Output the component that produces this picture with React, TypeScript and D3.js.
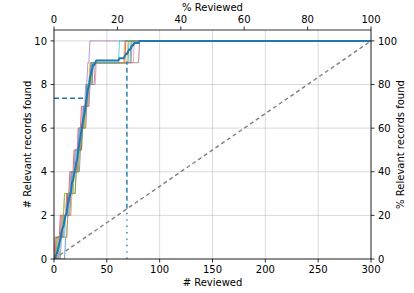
import React from 'react';
import * as d3 from 'd3';

// position (# reviewed) at which each of the 10 relevant records was found, one row per run
const runFoundAt: number[][] = [
  [10, 12, 15, 18, 21, 24, 27, 31, 36, 70],
  [4, 12, 16, 20, 22, 25, 28, 31, 33, 66],
  [2, 7, 9, 20, 23, 26, 29, 32, 35, 72],
  [1, 5, 11, 14, 18, 22, 25, 30, 34, 67],
  [3, 6, 12, 15, 19, 23, 27, 29, 31, 33],
  [0, 8, 12, 16, 24, 26, 30, 33, 38, 80],
  [4, 6, 13, 16, 19, 22, 26, 33, 39, 75],
  [6, 9, 14, 17, 22, 25, 28, 30, 36, 73],
  [3, 7, 9, 18, 21, 24, 29, 31, 35, 69],
  [5, 10, 13, 16, 20, 23, 27, 30, 34, 61],
];
const runColors = ['#1f77b4', '#ff7f0e', '#2ca02c', '#d62728', '#9467bd', '#8c564b', '#e377c2', '#7f7f7f', '#bcbd22', '#17becf'];

const nTotal = 300;
const nRelevant = 10;
const bottomTicks = [0, 50, 100, 150, 200, 250, 300];
const topTicks = [0, 20, 40, 60, 80, 100];
const leftTicks = [0, 2, 4, 6, 8, 10];
const rightTicks = [0, 20, 40, 60, 80, 100];

// RRF@10 and WSS markers
const rrfX = 30;
const rrfY = 7.37;
const wssX = 69;
const wssY = 9.05;

const W = 414;
const H = 293;
const m = { left: 54, right: 371, top: 30, bottom: 259 };
const font = 'DejaVu Sans, sans-serif';

export default function App() {
  const x = d3.scaleLinear().domain([0, nTotal]).range([m.left, m.right]);
  const xPct = d3.scaleLinear().domain([0, 100]).range([m.left, m.right]);
  const y = d3.scaleLinear().domain([0, 10.5]).range([m.bottom, m.top]);
  const yPct = d3.scaleLinear().domain([0, 105]).range([m.bottom, m.top]);

  const steps = d3.range(0, nTotal + 1);
  const curves = runFoundAt.map(found =>
    steps.map(i => [i, found.filter(f => f < i).length] as [number, number])
  );
  const mean = steps.map(i => [i, d3.mean(curves, c => c[i][1]) as number] as [number, number]);

  const line = d3.line<[number, number]>().x(d => x(d[0])).y(d => y(d[1]));

  return (
    <svg width={W} height={H} style={{ position: 'absolute', left: 0, top: 0 }} fontFamily={font}>
      <rect width={W} height={H} fill="#fff" />
      {/* grid */}
      {bottomTicks.map(t => (
        <line key={'gx' + t} x1={x(t)} x2={x(t)} y1={m.top} y2={m.bottom} stroke="#b0b0b0" strokeOpacity={0.6} strokeWidth={0.8} />
      ))}
      {leftTicks.map(t => (
        <line key={'gy' + t} x1={m.left} x2={m.right} y1={y(t)} y2={y(t)} stroke="#b0b0b0" strokeOpacity={0.6} strokeWidth={0.8} />
      ))}
      <defs>
        <clipPath id="plot">
          <rect x={m.left} y={m.top} width={m.right - m.left} height={m.bottom - m.top} />
        </clipPath>
      </defs>
      <g clipPath="url(#plot)">
        {curves.map((c, i) => (
          <path key={i} d={line(c) || ''} fill="none" stroke={runColors[i]} strokeWidth={0.9} strokeOpacity={0.75} />
        ))}
        <path d={line([[0, 0], [nTotal, nRelevant]]) || ''} stroke="#808080" strokeWidth={1.4} strokeDasharray="4,3" fill="none" />
        <path d={line(mean) || ''} fill="none" stroke="#1f77b4" strokeWidth={2} />
        <line x1={x(0)} x2={x(rrfX)} y1={y(rrfY)} y2={y(rrfY)} stroke="#1f77b4" strokeWidth={1.4} strokeDasharray="5,3" />
        <line x1={x(wssX)} x2={x(wssX)} y1={y(wssX * nRelevant / nTotal)} y2={y(wssY)} stroke="#1f77b4" strokeWidth={1.4} strokeDasharray="5,3" />
        <line x1={x(wssX)} x2={x(wssX)} y1={y(0)} y2={y(wssX * nRelevant / nTotal)} stroke="#1f77b4" strokeWidth={1.4} strokeDasharray="1.4,5" />
      </g>
      {/* frame */}
      <rect x={m.left} y={m.top} width={m.right - m.left} height={m.bottom - m.top} fill="none" stroke="#000" strokeWidth={0.8} />
      {/* bottom axis */}
      {bottomTicks.map(t => (
        <g key={'b' + t}>
          <line x1={x(t)} x2={x(t)} y1={m.bottom} y2={m.bottom + 3.5} stroke="#000" strokeWidth={0.8} />
          <text x={x(t)} y={m.bottom + 14} fontSize={10} textAnchor="middle">{t}</text>
        </g>
      ))}
      <text x={(m.left + m.right) / 2} y={286} fontSize={10} textAnchor="middle"># Reviewed</text>
      {/* top axis */}
      {topTicks.map(t => (
        <g key={'t' + t}>
          <line x1={xPct(t)} x2={xPct(t)} y1={m.top} y2={m.top - 3.5} stroke="#000" strokeWidth={0.8} />
          <text x={xPct(t)} y={m.top - 7} fontSize={10} textAnchor="middle">{t}</text>
        </g>
      ))}
      <text x={(m.left + m.right) / 2} y={11} fontSize={10} textAnchor="middle">% Reviewed</text>
      {/* left axis */}
      {leftTicks.map(t => (
        <g key={'l' + t}>
          <line x1={m.left} x2={m.left - 3.5} y1={y(t)} y2={y(t)} stroke="#000" strokeWidth={0.8} />
          <text x={m.left - 7} y={y(t) + 3.6} fontSize={10} textAnchor="end">{t}</text>
        </g>
      ))}
      <text transform={`translate(31,${(m.top + m.bottom) / 2}) rotate(-90)`} fontSize={10} textAnchor="middle"># Relevant records found</text>
      {/* right axis */}
      {rightTicks.map(t => (
        <g key={'r' + t}>
          <line x1={m.right} x2={m.right + 3.5} y1={yPct(t)} y2={yPct(t)} stroke="#000" strokeWidth={0.8} />
          <text x={m.right + 7} y={yPct(t) + 3.6} fontSize={10} textAnchor="start">{t}</text>
        </g>
      ))}
      <text transform={`translate(404,${(m.top + m.bottom) / 2}) rotate(-90)`} fontSize={10} textAnchor="middle">% Relevant records found</text>
    </svg>
  );
}
